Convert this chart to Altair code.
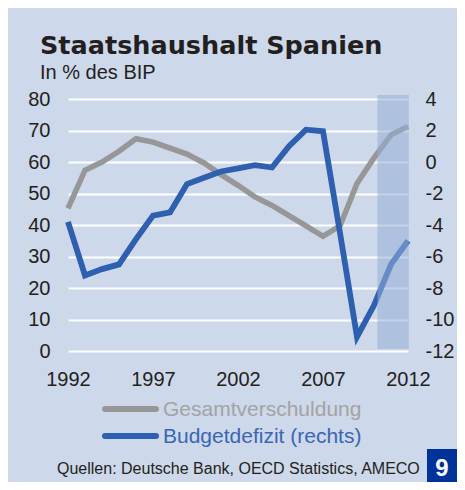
import altair as alt
import pandas as pd

# ---- data ----
years = [1992, 1993, 1994, 1995, 1996, 1997, 1998, 1999, 2000, 2001, 2002,
         2003, 2004, 2005, 2006, 2007, 2008, 2009, 2010, 2011, 2012]
debt = [45.3, 57.4, 60.0, 63.4, 67.4, 66.3, 64.4, 62.5, 59.7, 56.0, 52.6,
        48.9, 46.2, 43.0, 39.7, 36.4, 39.7, 53.2, 61.3, 68.6, 71.3]
deficit = [-3.8, -7.2, -6.8, -6.5, -4.9, -3.4, -3.2, -1.4, -1.0, -0.6, -0.4,
           -0.2, -0.35, 1.0, 2.05, 1.95, -4.5, -11.1, -9.1, -6.5, -5.0]
series_names = ["Gesamtverschuldung", "Budgetdefizit (rechts)"]
series_colors = ["#979797", "#2f5faf"]
label_colors = ["#a3a3a3", "#3a66b4"]
left_ticks = [0, 10, 20, 30, 40, 50, 60, 70, 80]
right_ticks = [-12, -10, -8, -6, -4, -2, 0, 2, 4]
year_ticks = [1992, 1997, 2002, 2007, 2012]
band_x = [2010.2, 2012.05]
band_y = [0.6, 81.3]
title_text = "Staatshaushalt Spanien"
subtitle_text = "In % des BIP"
source_text = "Quellen: Deutsche Bank, OECD Statistics, AMECO"
badge_text = "9"

FONT = "Liberation Sans"
TXT = "#231f20"

df_debt = pd.DataFrame({"Jahr": years, "Wert": debt, "Serie": series_names[0]})
df_def = pd.DataFrame({"Jahr": years, "Wert": deficit, "Serie": series_names[1]})
df_band = pd.DataFrame({"von": [band_x[0]], "bis": [band_x[1]],
                        "unten": [band_y[0]], "oben": [band_y[1]]})

xscale = alt.Scale(domain=[1992, 2012], nice=False, zero=False)
xaxis = alt.Axis(values=year_ticks, format="d", labelFontSize=20, labelFont=FONT,
                 labelColor=TXT, domain=False, ticks=False, tickSize=0, grid=False,
                 labelFlush=False, labelPadding=18, title=None)

color = alt.Color("Serie:N",
                  scale=alt.Scale(domain=series_names, range=series_colors),
                  legend=None)

gray = alt.Chart(df_debt).mark_line(strokeWidth=5.5).encode(
    x=alt.X("Jahr:Q", scale=xscale, axis=xaxis),
    y=alt.Y("Wert:Q", scale=alt.Scale(domain=[0, 80], nice=False),
            axis=alt.Axis(values=left_ticks, grid=True, gridColor="white",
                          gridWidth=2, gridOpacity=1, domain=False, ticks=False,
                          tickSize=0, labelFontSize=20, labelFont=FONT,
                          labelColor=TXT, labelPadding=18, title=None)),
    color=color,
)

blue = alt.Chart(df_def).mark_line(strokeWidth=5.8).encode(
    x=alt.X("Jahr:Q", scale=xscale, axis=xaxis),
    y=alt.Y("Wert:Q", scale=alt.Scale(domain=[-12, 4], nice=False, zero=False),
            axis=alt.Axis(orient="right", values=right_ticks, grid=False,
                          domain=False, ticks=False, tickSize=0,
                          labelExpr="datum.value + ''",
                          labelFontSize=20, labelFont=FONT, labelColor=TXT,
                          labelPadding=17, title=None)),
    color=color,
)

band = alt.Chart(df_band).mark_rect(color="#96afd6", opacity=0.55).encode(
    x=alt.X("von:Q", scale=xscale),
    x2="bis:Q",
    y=alt.Y("unten:Q", scale=alt.Scale(domain=[0, 80], nice=False), axis=None),
    y2="oben:Q",
)

# ---- legend (drawn as marks, placed below the plot) ----
legend_rows_y = [310, 337]
legend_layers = []
for name, col, lcol, ly in zip(series_names, series_colors, label_colors, legend_rows_y):
    d = pd.DataFrame({"Serie": [name]})
    legend_layers.append(
        alt.Chart(d).mark_rule(strokeWidth=6, strokeCap="round", color=col).encode(
            x=alt.value(37), x2=alt.value(88), y=alt.value(ly))
    )
    legend_layers.append(
        alt.Chart(d).mark_text(align="left", baseline="middle", font=FONT,
                               fontSize=21, color=lcol).encode(
            x=alt.value(95), y=alt.value(ly + 1), text="Serie:N")
    )

source = alt.Chart(pd.DataFrame({"t": [source_text]})).mark_text(
    align="left", baseline="alphabetic", font=FONT, fontSize=16, color=TXT
).encode(x=alt.value(-11), y=alt.value(375), text="t:N")

badge = alt.Chart(pd.DataFrame({"t": [badge_text]})).mark_rect(color="#003399").encode(
    x=alt.value(359), x2=alt.value(389), y=alt.value(350), y2=alt.value(383)
)
badge_txt = alt.Chart(pd.DataFrame({"t": [badge_text]})).mark_text(
    align="center", baseline="alphabetic", font=FONT, fontSize=24,
    fontWeight="bold", color="white"
).encode(x=alt.value(374), y=alt.value(377), text="t:N")

chart = alt.layer(gray, blue, band, *legend_layers, source, badge, badge_txt).resolve_scale(
    y="independent"
).properties(
    width=340,
    height=252,
    padding={"left": 60, "top": 91, "right": 49, "bottom": 131},
    autosize=alt.AutoSizeParams(type="none"),
    background="#cdd8ea",
    title=alt.TitleParams(text=title_text, subtitle=subtitle_text, anchor="start",
                          frame="group", font="DejaVu Sans", fontSize=25.5,
                          fontWeight="bold",
                          color=TXT, subtitleFont=FONT, subtitleFontSize=20,
                          subtitleColor=TXT, subtitlePadding=4, dx=-28, offset=6),
).configure_view(stroke=None)

chart.save("out.html", embed_options={"renderer": "svg", "actions": False})
